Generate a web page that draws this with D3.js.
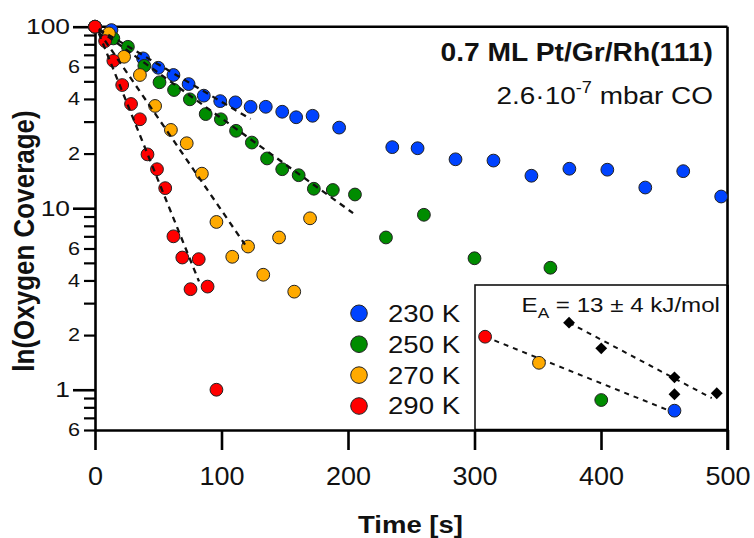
<!DOCTYPE html>
<html>
<head>
<meta charset="utf-8">
<script src="https://cdn.jsdelivr.net/npm/d3@7"></script>
<style>
body{margin:0;background:#fff;}
text{font-family:"Liberation Sans",Arial,sans-serif;fill:#111;}
</style>
</head>
<body>
<svg id="chart"></svg>
<script>
var W = 754, H = 538;

// values
var labels = ["230 K", "250 K", "270 K", "290 K"];
var colors = ["#0043ff", "#008c00", "#ffaa00", "#ff0000"];

var t230 = [0, 13, 38, 50, 62, 74, 86, 99, 111, 123, 135, 148, 159, 172, 193, 235, 255, 285, 315, 345, 375, 405, 435, 465, 495];
var v230 = [100, 95.8, 66.9, 59.4, 54.2, 48.3, 41.7, 38.9, 38.3, 36.2, 36.2, 34.0, 31.7, 32.3, 27.8, 21.7, 21.4, 18.6, 18.3, 15.1, 16.5, 16.3, 13.0, 16.0, 11.6];
var t250 = [0, 14.5, 26, 39, 51, 62.5, 75, 87.5, 99.5, 111.5, 124, 136, 148, 161, 173, 188, 205.5, 230, 260, 300, 360];
var v250 = [100, 86.2, 77.5, 60.9, 49.4, 44.8, 39.8, 33.0, 30.9, 26.7, 23.0, 18.8, 16.4, 15.2, 12.8, 12.6, 11.9, 6.9, 9.2, 5.3, 4.7];
var t270 = [0, 11, 23, 35.5, 47.5, 60, 72.5, 84.5, 96, 108.5, 121, 133, 145.5, 157.5, 170];
var v270 = [100, 91.9, 68.3, 54.2, 36.6, 27.0, 22.8, 15.5, 8.4, 5.4, 6.15, 4.3, 6.9, 3.47, 8.8];
var t290 = [0, 8, 14.5, 21.5, 28.5, 35.5, 41.5, 49, 55.5, 62, 69, 75.5, 82, 89, 96];
var v290 = [100, 83.3, 64.9, 47.7, 37.5, 30.9, 19.8, 16.4, 12.9, 7.0, 5.35, 3.58, 5.24, 3.7, 1.0];

// dashed fits, [time, coverage] at both ends
var fit230 = [[3, 97], [123, 31.0]];
var fit250 = [[3, 96], [204, 9.4]];
var fit270 = [[3, 94], [118.6, 6.3]];
var fit290 = [[3, 92], [82.2, 3.95]];

// inset (Arrhenius): 1000/T vs ln k
var inX = [3.448, 3.704, 4.0, 4.348];
var inY = [-3.07, -3.61, -4.38, -4.60];
var dX = [3.847, 4.0, 4.348, 4.348, 4.549];
var dY = [-2.78, -3.31, -3.91, -4.26, -4.24];
var inFitLow = [[3.448, -3.07], [4.335, -4.62]];
var inFitUp = [[3.847, -2.78], [4.525, -4.34]];

var xTicks = [0, 100, 200, 300, 400, 500];
var yMajor = [1, 10, 100];
var yMinor = [0.6, 0.7, 0.8, 0.9, 2, 3, 4, 5, 6, 7, 8, 9, 20, 30, 40, 50, 60, 70, 80, 90];
var yMinorLab = [0.6, 2, 4, 6, 20, 40, 60];

var times = [t230, t250, t270, t290];
var vals = [v230, v250, v270, v290];
var fits = [fit230, fit250, fit270, fit290];

// squeeze text sideways like the original export
var stretch = function(sel, sx){
  sel.attr("transform", function(){
    var tx = +d3.select(this).attr("x") || 0;
    var ty = +d3.select(this).attr("y") || 0;
    return "translate(" + tx + "," + ty + ") scale(" + sx + ",1) translate(" + (-tx) + "," + (-ty) + ")";
  });
};

var svg = d3.select("#chart").attr("width", W).attr("height", H);
svg.append("rect").attr("width", W).attr("height", H).attr("fill", "#fff");

var x = d3.scaleLinear().domain([0, 500]).range([95, 727.5]);
var y = d3.scaleLog().domain([0.6, 100]).range([430, 26.7]);

// x axis
var gx = svg.append("g").attr("transform", "translate(0," + y(0.6) + ")")
  .call(d3.axisBottom(x).tickValues(xTicks).tickSize(20).tickSizeOuter(0).tickPadding(17));
gx.select(".domain").attr("stroke", "#000").attr("stroke-width", 2.6);
gx.selectAll(".tick line").attr("stroke", "#000").attr("stroke-width", 2.6);
gx.selectAll("text").attr("font-size", 25).attr("fill", "#111").call(stretch, 1.08);

// y axis, minor then major
var gyMin = svg.append("g").attr("transform", "translate(" + x(0) + ",0)")
  .call(d3.axisLeft(y).tickValues(yMinor).tickSize(11).tickSizeOuter(0).tickPadding(4)
    .tickFormat(function(d){
      if (yMinorLab.indexOf(d) < 0) return "";
      return Math.round(d / Math.pow(10, Math.floor(Math.log10(d) + 1e-9)));
    }));
gyMin.select(".domain").remove();
gyMin.selectAll(".tick line").attr("stroke", "#000").attr("stroke-width", 2.2);
gyMin.selectAll("text").attr("font-size", 18).attr("fill", "#111").call(stretch, 1.2);

var gyMaj = svg.append("g").attr("transform", "translate(" + x(0) + ",0)")
  .call(d3.axisLeft(y).tickValues(yMajor).tickSize(22).tickSizeOuter(0).tickPadding(3)
    .tickFormat(d3.format("d")));
gyMaj.select(".domain").attr("stroke", "#000").attr("stroke-width", 2.6);
gyMaj.selectAll(".tick line").attr("stroke", "#000").attr("stroke-width", 2.6);
gyMaj.selectAll("text").attr("font-size", 22).attr("fill", "#111").call(stretch, 1.2);

// frame top / right
svg.append("line").attr("x1", x(0)).attr("x2", x(500)).attr("y1", y(100)).attr("y2", y(100))
  .attr("stroke", "#000").attr("stroke-width", 2.6);
svg.append("line").attr("x1", x(500)).attr("x2", x(500)).attr("y1", y(100)).attr("y2", y(0.6))
  .attr("stroke", "#000").attr("stroke-width", 2.6);

// points
for (var s = 0; s < 4; s++) {
  var pts = times[s].map(function(t, i){ return {t: t, v: vals[s][i]}; });
  svg.append("g").selectAll("circle")
    .data(pts)
    .enter()
    .append("circle")
    .attr("cx", function(d){ return x(d.t); })
    .attr("cy", function(d){ return y(d.v); })
    .attr("r", 6.4)
    .attr("fill", colors[s])
    .attr("stroke", "#222")
    .attr("stroke-width", 1);
}

// dashed fits on top of points
var fitLine = d3.line().x(function(d){ return x(d[0]); }).y(function(d){ return y(d[1]); });
svg.append("g").selectAll("path")
  .data(fits)
  .enter()
  .append("path")
  .attr("d", fitLine)
  .attr("fill", "none")
  .attr("stroke", "#111")
  .attr("stroke-width", 2.3)
  .attr("stroke-dasharray", "6,5");

// titles
var t1 = svg.append("text").attr("x", 713).attr("y", 61.5).attr("text-anchor", "end")
  .attr("font-size", 25).attr("font-weight", "bold").text("0.7 ML Pt/Gr/Rh(111)");
t1.call(stretch, 1.13);
var t2 = svg.append("text").attr("x", 713).attr("y", 104).attr("text-anchor", "end").attr("font-size", 24.5);
t2.append("tspan").text("2.6\u00b710");
t2.append("tspan").attr("dy", -11).attr("font-size", 16).text("-7");
t2.append("tspan").attr("dy", 11).text(" mbar CO");
t2.call(stretch, 1.14);

svg.append("text").attr("x", 410.5).attr("y", 533).attr("text-anchor", "middle")
  .attr("font-size", 23.5).attr("font-weight", "bold").text("Time [s]")
  .call(stretch, 1.17);

svg.append("text").attr("text-anchor", "middle").attr("font-size", 26).attr("font-weight", "bold")
  .attr("transform", "translate(34,241) rotate(-90) scale(1,1.12)")
  .text("ln(Oxygen Coverage)");

// legend
var leg = svg.append("g").selectAll("g")
  .data(labels)
  .enter()
  .append("g")
  .attr("transform", function(d, i){ return "translate(359," + (313.3 + i * 30.9) + ")"; });
leg.append("circle").attr("r", 8.3)
  .attr("fill", function(d, i){ return colors[i]; })
  .attr("stroke", "#222").attr("stroke-width", 1);
leg.append("text").attr("x", 29).attr("y", 8.4).attr("font-size", 23)
  .text(function(d){ return d; })
  .call(stretch, 1.2);

// inset
var ix = d3.scaleLinear().domain([3.4, 4.6]).range([475, 727.5]);
var iy = d3.scaleLinear().domain([-5, -2]).range([430, 285]);
svg.append("rect").attr("x", ix(3.4)).attr("y", iy(-2))
  .attr("width", ix(4.6) - ix(3.4)).attr("height", iy(-5) - iy(-2))
  .attr("fill", "#fff").attr("stroke", "#111").attr("stroke-width", 1.6);
// right/bottom edges belong to the main frame, redraw thick
svg.append("line").attr("x1", x(500)).attr("x2", x(500)).attr("y1", iy(-2)).attr("y2", y(0.6) + 20)
  .attr("stroke", "#000").attr("stroke-width", 2.6);
svg.append("line").attr("x1", ix(3.4)).attr("x2", x(500)).attr("y1", y(0.6)).attr("y2", y(0.6))
  .attr("stroke", "#000").attr("stroke-width", 2.6);

var inLine = d3.line().x(function(d){ return ix(d[0]); }).y(function(d){ return iy(d[1]); });
svg.append("g").selectAll("path")
  .data([inFitLow, inFitUp])
  .enter()
  .append("path")
  .attr("d", inLine)
  .attr("fill", "none")
  .attr("stroke", "#111")
  .attr("stroke-width", 2)
  .attr("stroke-dasharray", "5,5");

var inColors = [colors[3], colors[2], colors[1], colors[0]];
svg.append("g").selectAll("circle")
  .data(inX)
  .enter()
  .append("circle")
  .attr("cx", function(d){ return ix(d); })
  .attr("cy", function(d, i){ return iy(inY[i]); })
  .attr("r", 6.4)
  .attr("fill", function(d, i){ return inColors[i]; })
  .attr("stroke", "#222")
  .attr("stroke-width", 1);

svg.append("g").selectAll("path")
  .data(dX)
  .enter()
  .append("path")
  .attr("d", d3.symbol().type(d3.symbolSquare).size(70))
  .attr("transform", function(d, i){ return "translate(" + ix(d) + "," + iy(dY[i]) + ") rotate(45)"; })
  .attr("fill", "#000");

var ea = svg.append("text").attr("x", 720).attr("y", 311.7).attr("text-anchor", "end").attr("font-size", 21);
ea.append("tspan").text("E");
ea.append("tspan").attr("dy", 6).attr("font-size", 15).text("A");
ea.append("tspan").attr("dy", -6).text(" = 13 \u00b1 4 kJ/mol");
ea.call(stretch, 1.15);
</script>
</body>
</html>
